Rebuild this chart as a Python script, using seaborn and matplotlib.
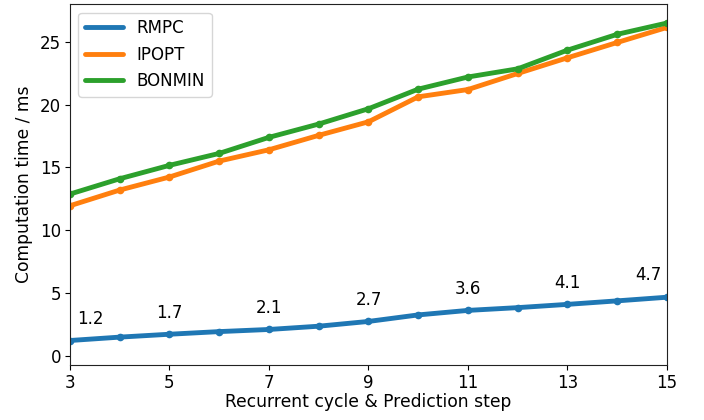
import matplotlib
matplotlib.use("Agg")
import matplotlib.pyplot as plt
import seaborn as sns
import pandas as pd

steps = [3, 4, 5, 6, 7, 8, 9, 10, 11, 12, 13, 14, 15]
rmpc = [1.2, 1.47, 1.7, 1.91, 2.08, 2.34, 2.72, 3.24, 3.6, 3.82, 4.08, 4.36, 4.65]
ipopt = [11.94, 13.19, 14.23, 15.5, 16.4, 17.55, 18.63, 20.62, 21.2, 22.48, 23.73, 24.95, 26.15]
bonmin = [12.87, 14.09, 15.16, 16.11, 17.39, 18.45, 19.67, 21.23, 22.2, 22.85, 24.34, 25.6, 26.5]
methods = ["RMPC", "IPOPT", "BONMIN"]
label_steps = [3, 5, 7, 9, 11, 13, 15]
label_texts = ["1.2", "1.7", "2.1", "2.7", "3.6", "4.1", "4.7"]

df = pd.DataFrame({
    "step": steps * 3,
    "time": rmpc + ipopt + bonmin,
    "method": [m for m in methods for _ in steps],
})

sns.set_style("ticks")
plt.rcParams["text.color"] = "black"
plt.rcParams["axes.labelcolor"] = "black"
plt.rcParams["xtick.color"] = "black"
plt.rcParams["ytick.color"] = "black"
fig, ax = plt.subplots(figsize=(7.04, 4.2), dpi=100)
fig.subplots_adjust(left=0.0994, right=0.9474, top=0.990, bottom=0.131)

palette = ["#1f77b4", "#ff7f0e", "#2ca02c"]
sns.lineplot(data=df, x="step", y="time", hue="method", hue_order=methods,
             palette=palette, marker="o", markersize=5.5, markeredgewidth=0,
             linewidth=3.5, ax=ax)

for s, t in zip(label_steps, label_texts):
    if s == steps[0]:
        xs = s + 0.4
    elif s == steps[-1]:
        xs = s - 0.37
    else:
        xs = s
    ax.text(xs, float(t) + 1.72, t, ha="center", va="center", fontsize=12)

ax.set_xlim(3, 15)
ax.set_ylim(-0.75, 28.0)
ax.set_xticks([3, 5, 7, 9, 11, 13, 15])
ax.set_yticks([0, 5, 10, 15, 20, 25])
ax.tick_params(labelsize=12, direction="out", length=3.5, width=0.8, pad=3)
ax.set_xlabel("Recurrent cycle & Prediction step", fontsize=12.3, labelpad=1)
ax.set_ylabel("Computation time / ms", fontsize=12.3, labelpad=5)
for sp in ax.spines.values():
    sp.set_visible(True)
    sp.set_linewidth(0.8)
    sp.set_color("#222222")

leg = ax.legend(loc="upper left", fontsize=12, frameon=True, handlelength=2.3)
for h in leg.get_lines():
    h.set_marker("")
    h.set_linewidth(3.5)

fig.savefig("out.png", dpi=100)
